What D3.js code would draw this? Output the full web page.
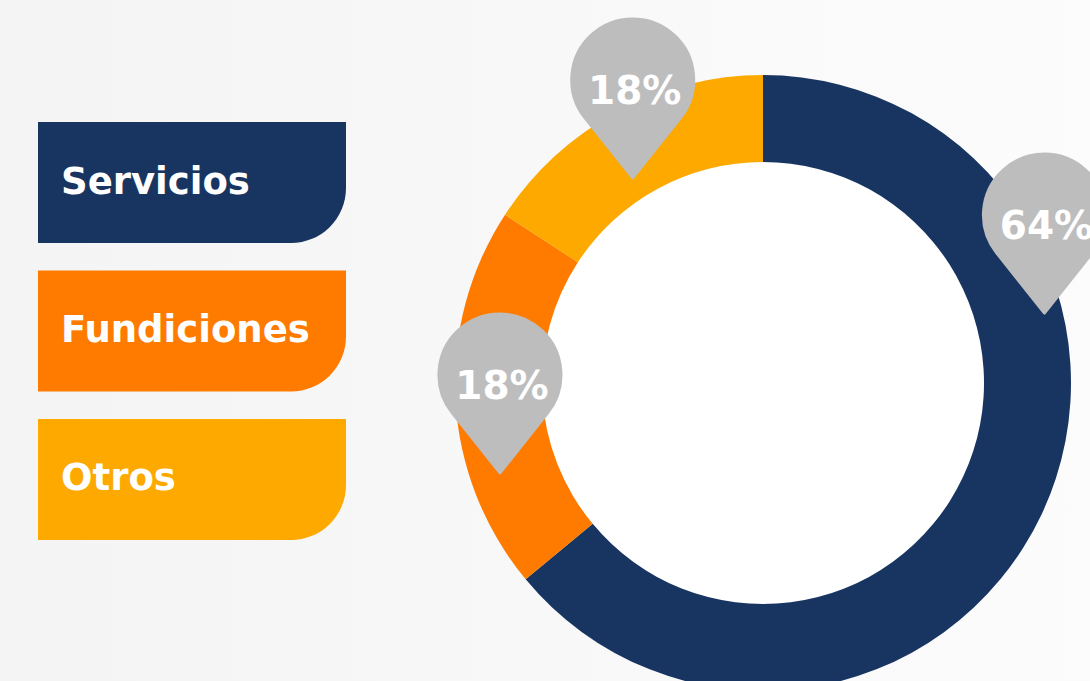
<!DOCTYPE html>
<html>
<head>
<meta charset="utf-8">
<script src="https://cdn.jsdelivr.net/npm/d3@7"></script>
<style>
  html, body { margin: 0; padding: 0; background: #f8f8f8; overflow: hidden; }
  svg { display: block; }
</style>
</head>
<body>
<svg id="chart" width="1090" height="681"></svg>
<script>
// ---- data ----
const categories = ["Servicios", "Fundiciones", "Otros"];
const arcShares  = [64, 20.2, 15.8];          // share of the ring each slice occupies, as drawn
const pctLabels  = ["64%", "18%", "18%"];      // labels printed on the pins
const colors     = ["#183562", "#ff7b00", "#fda900"];

// ---- layout ----
const W = 1090, H = 681;
const cx = 763, cy = 383, outerR = 308, innerR = 221;
const pinPlace = [ {f: 0.33, r: 290}, {f: 0.285, r: 278}, {f: 0.43, r: 243} ]; // where each pin tip sits within its slice
const pinR = 61, pinD = 98;

const svg = d3.select("#chart");

const defs = svg.append("defs");
const grad = defs.append("linearGradient").attr("id", "bg").attr("x1", 0).attr("x2", 1).attr("y1", 0).attr("y2", 0);
grad.append("stop").attr("offset", "0").attr("stop-color", "#f4f4f4");
grad.append("stop").attr("offset", "0.5").attr("stop-color", "#f8f8f8");
grad.append("stop").attr("offset", "1").attr("stop-color", "#fcfcfc");
svg.append("rect").attr("width", W).attr("height", H).attr("fill", "url(#bg)");

// ---- legend boxes ----
const legendY = d3.scaleBand().domain(categories).range([122, 540]).paddingInner(0.185);
const boxX0 = 38, boxX1 = 346, cr = 55;
const legend = svg.append("g");
categories.forEach((c, i) => {
  const y0 = legendY(c), h = legendY.bandwidth(), y1 = y0 + h;
  const p = d3.path();
  p.moveTo(boxX0, y0);
  p.lineTo(boxX1, y0);
  p.lineTo(boxX1, y1 - cr);
  p.arcTo(boxX1, y1, boxX1 - cr, y1, cr);
  p.lineTo(boxX0, y1);
  p.closePath();
  legend.append("path").attr("d", p.toString()).attr("fill", colors[i]);
  legend.append("text")
    .attr("x", 61).attr("y", y0 + h / 2 + 11)
    .attr("fill", "#ffffff")
    .attr("font-family", "'DejaVu Sans', sans-serif")
    .attr("font-weight", "bold")
    .attr("font-size", 37)
    .text(c);
});

// ---- donut ----
const pie = d3.pie().sort(null).value(d => d)(arcShares);
const arc = d3.arc().innerRadius(innerR).outerRadius(outerR);
const g = svg.append("g").attr("transform", `translate(${cx},${cy})`);
g.append("circle").attr("r", innerR).attr("fill", "#ffffff");
g.selectAll("path.slice").data(pie).join("path")
  .attr("class", "slice")
  .attr("d", arc)
  .attr("fill", (d, i) => colors[i]);

// ---- pins ----
const alpha = Math.acos(pinR / pinD);
const tx = pinR * Math.sin(alpha), ty = -pinD + pinR * Math.cos(alpha);
const pinPath = `M0,0 L${-tx},${ty} A${pinR},${pinR} 0 1 1 ${tx},${ty} Z`;

pie.forEach((d, i) => {
  const a = d.startAngle + (d.endAngle - d.startAngle) * pinPlace[i].f;
  const x = pinPlace[i].r * Math.sin(a), y = -pinPlace[i].r * Math.cos(a);
  const pg = g.append("g").attr("transform", `translate(${x},${y})`);
  pg.append("path").attr("d", pinPath).attr("fill", "#bdbdbd")
    .attr("stroke", "#bdbdbd").attr("stroke-width", 3).attr("stroke-linejoin", "round");
  pg.append("text")
    .attr("x", 2).attr("y", -pinD + 24)
    .attr("text-anchor", "middle")
    .attr("fill", "#ffffff")
    .attr("font-family", "'DejaVu Sans', sans-serif")
    .attr("font-weight", "bold")
    .attr("font-size", 39)
    .text(pctLabels[i]);
});
</script>
</body>
</html>
